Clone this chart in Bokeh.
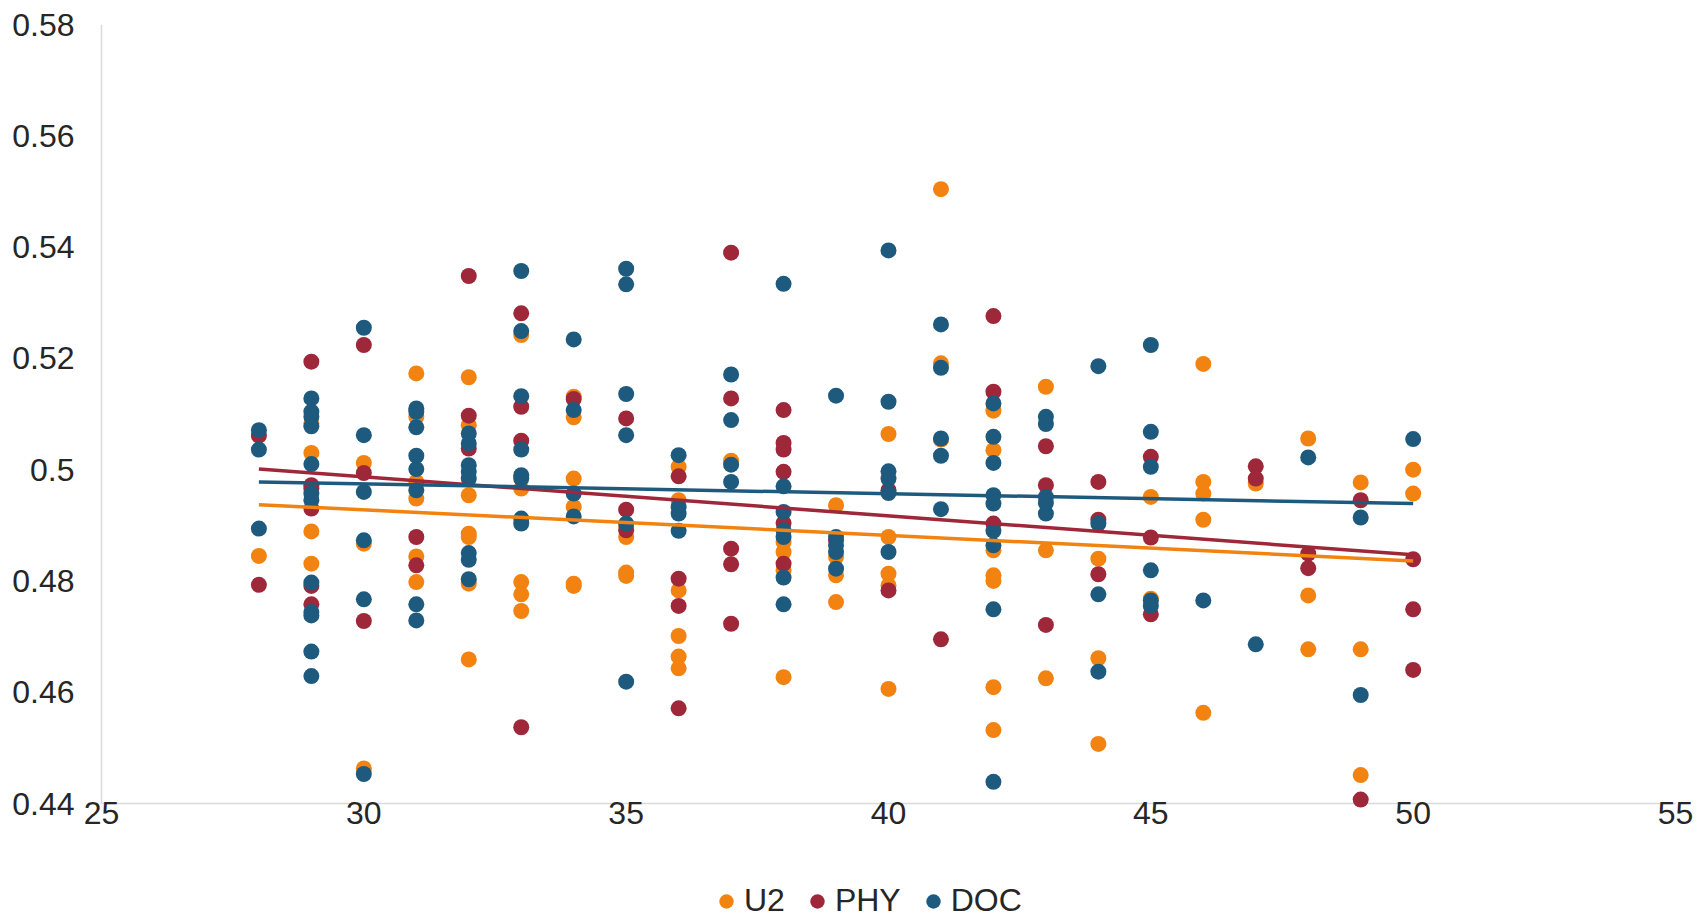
from bokeh.plotting import figure
from bokeh.models import Legend, LegendItem, NumeralTickFormatter, FixedTicker, Range1d
from bokeh.embed import file_html
from bokeh.resources import INLINE

# Scatter of three measures against age
u2_x = [28,
        29, 29, 29, 29,
        30, 30, 30,
        31, 31, 31, 31, 31, 31,
        32, 32, 32, 32, 32, 32, 32,
        33, 33, 33, 33, 33,
        34, 34, 34, 34, 34, 34,
        35, 35, 35, 35,
        36, 36, 36, 36, 36, 36,
        37,
        38, 38, 38, 38,
        39, 39, 39, 39,
        40, 40, 40, 40, 40,
        41, 41, 41,
        42, 42, 42, 42, 42, 42, 42,
        43, 43, 43,
        44, 44, 44,
        45, 45,
        46, 46, 46, 46, 46,
        47,
        48, 48, 48,
        49, 49, 49,
        50, 50]
u2_y = [0.4845,
        0.5083, 0.5030, 0.4889, 0.4831,
        0.5012, 0.4867, 0.4463,
        0.5173, 0.5095, 0.4978, 0.4948, 0.4844, 0.4798,
        0.5166, 0.5080, 0.4954, 0.4885, 0.4879, 0.4795, 0.4659,
        0.5242, 0.4966, 0.4798, 0.4776, 0.4746,
        0.5131, 0.5094, 0.4984, 0.4933, 0.4795, 0.4791,
        0.4897, 0.4879, 0.4815, 0.4809,
        0.5005, 0.4945, 0.4783, 0.4701, 0.4664, 0.4643,
        0.5016,
        0.4870, 0.4852, 0.4819, 0.4627,
        0.4936, 0.4843, 0.4810, 0.4762,
        0.5064, 0.4879, 0.4813, 0.4792, 0.4606,
        0.5504, 0.5191, 0.5054,
        0.5106, 0.5035, 0.4855, 0.4810, 0.4800, 0.4609, 0.4532,
        0.5149, 0.4855, 0.4625,
        0.4840, 0.4661, 0.4507,
        0.4951, 0.4768,
        0.5190, 0.4978, 0.4957, 0.4910, 0.4563,
        0.4975,
        0.5056, 0.4774, 0.4677,
        0.4977, 0.4677, 0.4451,
        0.5000, 0.4957]

phy_x = [28, 28,
         29, 29, 29, 29, 29, 29,
         30, 30, 30,
         31, 31,
         32, 32, 32,
         33, 33, 33, 33,
         34,
         35, 35, 35,
         36, 36, 36, 36,
         37, 37, 37, 37, 37,
         38, 38, 38, 38, 38, 38,
         39,
         40, 40,
         41,
         42, 42, 42,
         43, 43, 43,
         44, 44, 44,
         45, 45, 45,
         47, 47,
         48, 48,
         49, 49,
         50, 50, 50]
phy_y = [0.5061, 0.4793,
         0.5194, 0.4972, 0.4966, 0.4930, 0.4791, 0.4758,
         0.5224, 0.4994, 0.4728,
         0.4879, 0.4828,
         0.5348, 0.5097, 0.5038,
         0.5281, 0.5113, 0.5052, 0.4537,
         0.5127,
         0.5092, 0.4928, 0.4891,
         0.4988, 0.4804, 0.4755, 0.4571,
         0.5390, 0.5128, 0.4858, 0.4830, 0.4723,
         0.5107, 0.5048, 0.5036, 0.4996, 0.4904, 0.4831,
         0.4873,
         0.4963, 0.4783,
         0.4695,
         0.5276, 0.5140, 0.4903,
         0.5042, 0.4972, 0.4721,
         0.4978, 0.4910, 0.4812,
         0.5023, 0.4878, 0.4740,
         0.5006, 0.4984,
         0.4849, 0.4823,
         0.4945, 0.4407,
         0.4839, 0.4749, 0.4640]

doc_x = [28, 28, 28,
         29, 29, 29, 29, 29, 29, 29, 29, 29, 29, 29, 29,
         30, 30, 30, 30, 30, 30,
         31, 31, 31, 31, 31, 31, 31, 31,
         32, 32, 32, 32, 32, 32, 32, 32,
         33, 33, 33, 33, 33, 33, 33, 33,
         34, 34, 34, 34,
         35, 35, 35, 35, 35, 35,
         36, 36, 36, 36,
         37, 37, 37, 37,
         38, 38, 38, 38, 38, 38, 38,
         39, 39, 39, 39, 39,
         40, 40, 40, 40, 40, 40,
         41, 41, 41, 41, 41,
         42, 42, 42, 42, 42, 42, 42, 42, 42,
         43, 43, 43, 43, 43,
         44, 44, 44, 44,
         45, 45, 45, 45, 45, 45,
         46,
         47,
         48,
         49, 49,
         50]
doc_y = [0.5071, 0.5036, 0.4894,
         0.5128, 0.5104, 0.5095, 0.5078, 0.5010, 0.4957, 0.4945, 0.4797, 0.4744, 0.4738, 0.4673, 0.4629,
         0.5255, 0.5062, 0.4960, 0.4873, 0.4767, 0.4453,
         0.5110, 0.5104, 0.5076, 0.5025, 0.5001, 0.4963, 0.4758, 0.4729,
         0.5065, 0.5047, 0.5008, 0.4996, 0.4984, 0.4850, 0.4838, 0.4803,
         0.5357, 0.5249, 0.5132, 0.5036, 0.4990, 0.4984, 0.4912, 0.4903,
         0.5234, 0.5107, 0.4957, 0.4916,
         0.5361, 0.5333, 0.5136, 0.5062, 0.4903, 0.4619,
         0.5026, 0.4933, 0.4921, 0.4890,
         0.5171, 0.5089, 0.5009, 0.4978,
         0.5334, 0.4970, 0.4924, 0.4891, 0.4879, 0.4806, 0.4758,
         0.5133, 0.4879, 0.4864, 0.4852, 0.4822,
         0.5394, 0.5122, 0.4997, 0.4984, 0.4958, 0.4852,
         0.5261, 0.5183, 0.5056, 0.5025, 0.4929,
         0.5119, 0.5059, 0.5012, 0.4954, 0.4939, 0.4890, 0.4864, 0.4749, 0.4439,
         0.5095, 0.5082, 0.4951, 0.4940, 0.4921,
         0.5186, 0.4903, 0.4776, 0.4637,
         0.5224, 0.5068, 0.5005, 0.4819, 0.4765, 0.4755,
         0.4765,
         0.4686,
         0.5022,
         0.4914, 0.4595,
         0.5055]

# Linear trend lines (end points)
trend_x = [28, 50]
u2_trend = [0.4937, 0.4836]
phy_trend = [0.5001, 0.4847]
doc_trend = [0.4978, 0.4939]

x_ticks = [25, 30, 35, 40, 45, 50, 55]
y_ticks = [0.44, 0.46, 0.48, 0.50, 0.52, 0.54, 0.56, 0.58]

U2_COLOR = "#F28310"
PHY_COLOR = "#9E2739"
DOC_COLOR = "#1E5A7E"
AXIS_COLOR = "#D9D9D9"
FONT = "Liberation Sans"
TEXT_COLOR = "#262626"

# Layout in pixels: the plot area is PLOT_W x PLOT_H; the frame reaches
# PAD px further left/right and BELOW_H px further down so that the tick
# labels and the legend sit inside it.
PLOT_W, PLOT_H, BELOW_H, PAD = 1574, 779, 114, 25
x_lo, x_hi = x_ticks[0], x_ticks[-1]
y_lo, y_hi = y_ticks[0], y_ticks[-1]
x_pad = PAD * (x_hi - x_lo) / PLOT_W
y_floor = y_lo - BELOW_H * (y_hi - y_lo) / PLOT_H

p = figure(frame_width=PLOT_W + 2 * PAD, frame_height=PLOT_H + BELOW_H,
           x_range=Range1d(x_lo - x_pad, x_hi + x_pad), y_range=Range1d(y_floor, y_hi),
           output_backend="svg", toolbar_location=None,
           min_border_left=101 - PAD, min_border_right=0, min_border_top=24,
           min_border_bottom=0)
p.outline_line_color = None
p.grid.visible = False
p.background_fill_color = "white"
p.border_fill_color = "white"

# axis lines, limited to the plot area
p.segment(x0=[x_lo, x_lo], y0=[y_lo, y_lo], x1=[x_lo, x_hi], y1=[y_hi, y_lo],
          line_color=AXIS_COLOR, line_width=1.5)

r_u2 = p.scatter(u2_x, u2_y, size=16, color=U2_COLOR, line_color=None)
r_phy = p.scatter(phy_x, phy_y, size=16, color=PHY_COLOR, line_color=None)
r_doc = p.scatter(doc_x, doc_y, size=16, color=DOC_COLOR, line_color=None)

p.line(trend_x, u2_trend, line_color=U2_COLOR, line_width=3.5)
p.line(trend_x, phy_trend, line_color=PHY_COLOR, line_width=3.5)
p.line(trend_x, doc_trend, line_color=DOC_COLOR, line_width=3.5)

for ax in (p.xaxis[0], p.yaxis[0]):
    ax.axis_line_color = None
    ax.major_tick_line_color = None
    ax.minor_tick_line_color = None
    ax.major_label_text_font = FONT
    ax.major_label_text_font_size = "32px"
    ax.major_label_text_color = TEXT_COLOR

p.xaxis.fixed_location = y_lo
p.xaxis.ticker = FixedTicker(ticks=x_ticks)
p.yaxis.ticker = FixedTicker(ticks=y_ticks)
p.yaxis.formatter = NumeralTickFormatter(format="0.[00]")
p.xaxis.major_label_standoff = -8
p.yaxis.major_label_standoff = 21 - PAD

legend = Legend(items=[LegendItem(label="U2", renderers=[r_u2]),
                       LegendItem(label="PHY", renderers=[r_phy]),
                       LegendItem(label="DOC", renderers=[r_doc])],
                orientation="horizontal", location=(632, -2),
                label_text_font=FONT, label_text_font_size="32px",
                label_text_color=TEXT_COLOR, border_line_color=None,
                background_fill_alpha=0, glyph_width=36, glyph_height=36,
                label_height=36, label_standoff=-7, spacing=14, margin=0,
                padding=0)
p.add_layout(legend, "center")

open("out.html", "w").write(file_html(p, INLINE))
